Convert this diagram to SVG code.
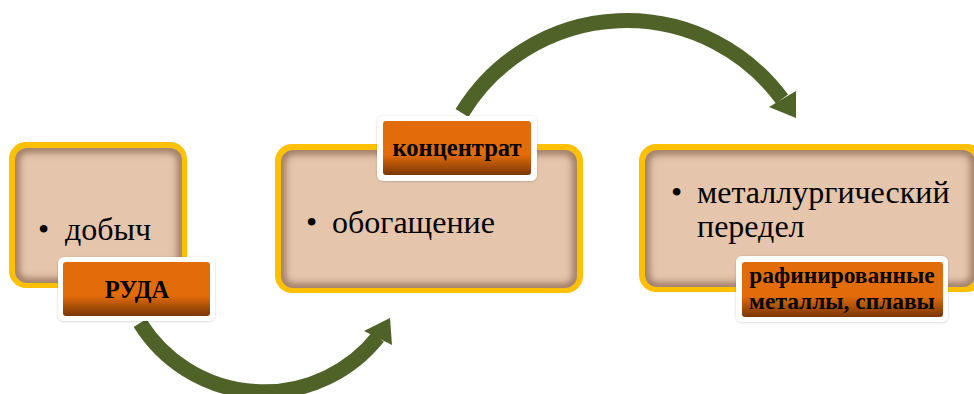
<svg xmlns="http://www.w3.org/2000/svg" width="974" height="394" viewBox="0 0 974 394">
  <defs>
    <style>
      .frame { fill: #FFC000; }
      .panel { fill: #E5C5AB; }
      .inner-shade { fill: none; stroke: #8C6A52; stroke-width: 9; stroke-opacity: 0.85; filter: url(#soft); }
      .halo { fill: #FFFFFF; filter: url(#drop); }
      .tag { fill: url(#tagFill); }
      .body { font-family: "Liberation Serif", "Times New Roman", serif; font-size: 32px; fill: #000; }
      .tagText { font-family: "Liberation Serif", "Times New Roman", serif; font-size: 24.5px; font-weight: bold; fill: #000; text-anchor: middle; }
      .tagSmall { font-size: 23.4px; }
      .flow { fill: none; stroke: #4F6228; stroke-width: 15; }
      .head { fill: #4F6228; }
    </style>
    <linearGradient id="tagFill" x1="0" y1="0" x2="0" y2="1">
      <stop offset="0" stop-color="#E36C0A"/>
      <stop offset="0.62" stop-color="#E36C0A"/>
      <stop offset="1" stop-color="#7A3606"/>
    </linearGradient>
    <filter id="soft" x="-10%" y="-10%" width="120%" height="120%">
      <feGaussianBlur stdDeviation="3.5"/>
    </filter>
    <filter id="drop" x="-10%" y="-20%" width="120%" height="140%">
      <feDropShadow dx="0" dy="0.5" stdDeviation="1" flood-color="#000" flood-opacity="0.2"/>
    </filter>
    <clipPath id="clipA"><rect x="15" y="148" width="167" height="135" rx="12"/></clipPath>
    <clipPath id="clipB"><rect x="281" y="150" width="296" height="138" rx="12"/></clipPath>
    <clipPath id="clipC"><rect x="645" y="150" width="330" height="137" rx="12"/></clipPath>
  </defs>

  <!-- connectors: curved block arrows between stages -->
  <g id="connectors">
    <path class="flow" d="M 140 323 A 146 146 0 0 0 378 337"/>
    <polygon class="head" points="390,318 364,331 392,345"/>
    <path class="flow" d="M 462 113 A 193 193 0 0 1 782 99"/>
    <polygon class="head" points="796,118 769,107 796,91"/>
  </g>

  <!-- stage 1: extraction -->
  <g id="node-mining">
    <rect class="frame" x="9" y="142" width="178" height="146" rx="17"/>
    <rect class="panel" x="15" y="148" width="167" height="135" rx="12"/>
    <rect class="inner-shade" x="15" y="148" width="167" height="135" rx="12" clip-path="url(#clipA)"/>
    <text class="body" x="38" y="240">•</text>
    <text class="body" x="65" y="240">добыч</text>
  </g>

  <!-- stage 2: beneficiation -->
  <g id="node-concentration">
    <rect class="frame" x="275" y="144" width="308" height="149" rx="17"/>
    <rect class="panel" x="281" y="150" width="296" height="138" rx="12"/>
    <rect class="inner-shade" x="281" y="150" width="296" height="138" rx="12" clip-path="url(#clipB)"/>
    <text class="body" x="306" y="233">•</text>
    <text class="body" x="332" y="233">обогащение</text>
  </g>

  <!-- stage 3: metallurgical processing -->
  <g id="node-metallurgy">
    <rect class="frame" x="639" y="144" width="345" height="148" rx="17"/>
    <rect class="panel" x="645" y="150" width="330" height="137" rx="12"/>
    <rect class="inner-shade" x="645" y="150" width="330" height="137" rx="12" clip-path="url(#clipC)"/>
    <text class="body" x="671" y="203">•</text>
    <text class="body" x="697" y="203">металлургический<tspan x="697" y="237">передел</tspan></text>
  </g>

  <!-- product tags -->
  <g id="tag-ore">
    <rect class="halo" x="58" y="257" width="157" height="64" rx="6"/>
    <rect class="tag" x="63" y="262" width="147" height="54" rx="3"/>
    <text class="tagText" x="137" y="298">РУДА</text>
  </g>

  <g id="tag-concentrate">
    <rect class="halo" x="377" y="116" width="160" height="65" rx="6"/>
    <rect class="tag" x="383" y="121" width="148" height="54" rx="3"/>
    <text class="tagText" x="457" y="156">концентрат</text>
  </g>

  <g id="tag-metals">
    <rect class="halo" x="736" y="256" width="212" height="66" rx="6"/>
    <rect class="tag" x="742" y="262" width="201" height="55" rx="3"/>
    <text class="tagText tagSmall" x="842" y="283">рафинированные<tspan x="842" y="309">металлы, сплавы</tspan></text>
  </g>
</svg>
